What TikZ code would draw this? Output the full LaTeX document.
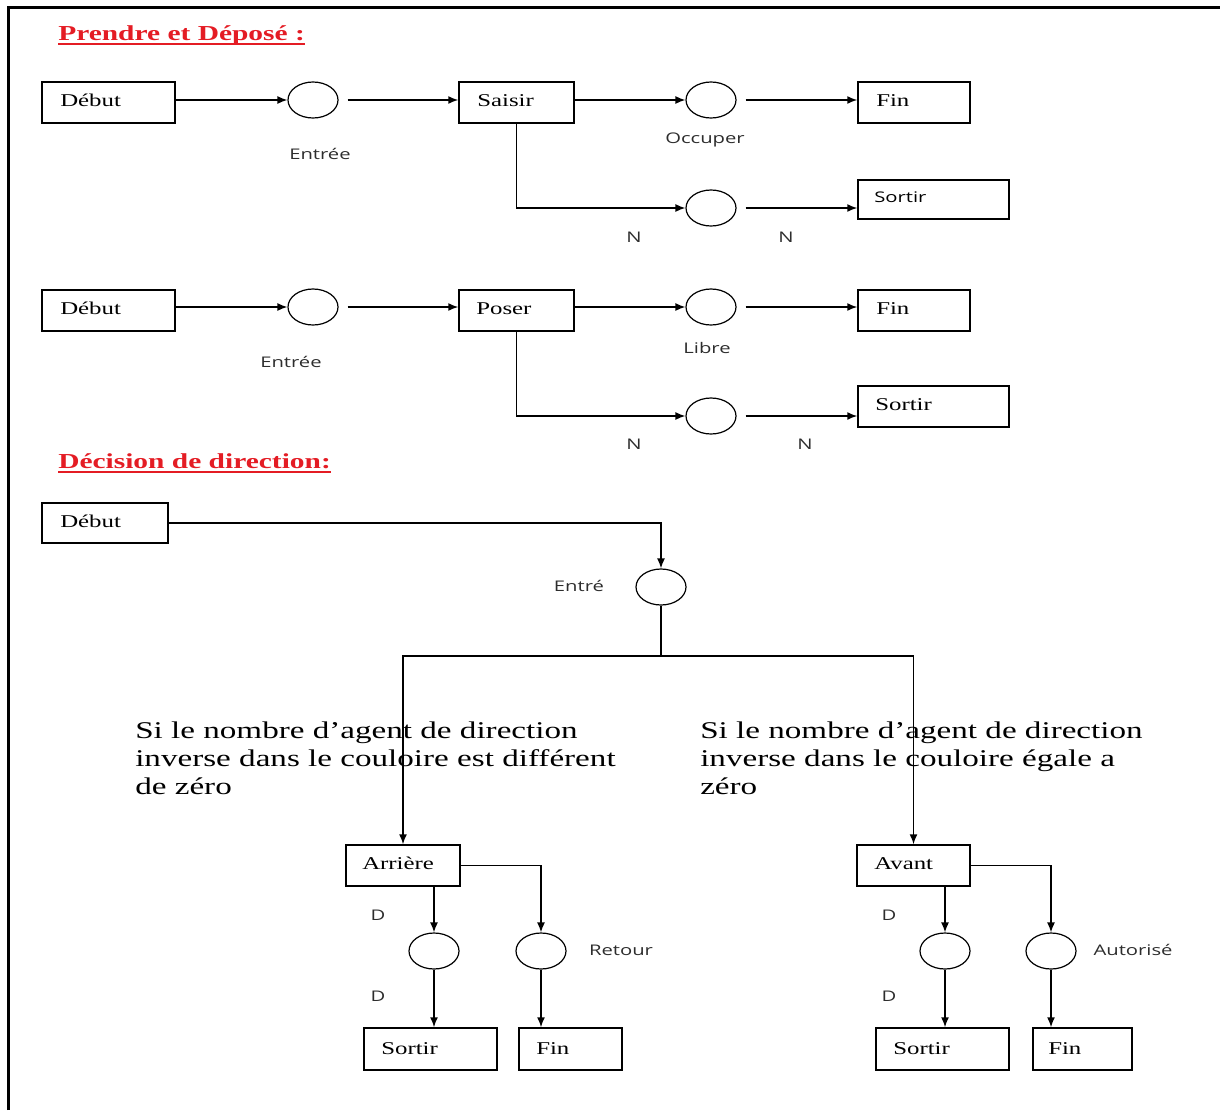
\documentclass[tikz,border=0pt]{standalone}
\usepackage{fontspec}
\setmainfont{Liberation Serif}
\newfontfamily\sansfont{Open Sans}
\usetikzlibrary{arrows.meta,shapes.geometric,fit,calc}

\definecolor{rouge}{RGB}{228,28,36}
\definecolor{gristxt}{RGB}{45,45,45}
% texts are set wider than their height
\newcommand{\etire}[1]{\scalebox{1.38}[1]{#1}}

\tikzset{
  boite/.style={draw, line width=1.1pt, inner sep=0pt},
  place/.style={draw, ellipse, line width=0.9pt, minimum width=37.5pt, minimum height=27pt, inner sep=0pt},
  trait/.style={line width=1.1pt},
  fleche/.style={trait, -{Latex[length=7.5pt,width=6pt]}},
  depart/.style={shorten <=6.75pt},
  txt/.style={inner sep=0pt, anchor=base west, font=\fontsize{13.5pt}{16pt}\selectfont},
  etiq/.style={inner sep=0pt, text=gristxt, font=\sansfont\fontsize{11pt}{13pt}\selectfont},
  titre/.style={inner sep=0pt, anchor=base west, text=rouge, font=\bfseries\fontsize{16pt}{19pt}\selectfont},
  para/.style={inner sep=0pt, anchor=base west, font=\fontsize{18pt}{21pt}\selectfont},
}

\begin{document}
\begin{tikzpicture}[x=0.75pt,y=0.75pt,yscale=-1,xscale=1]
\useasboundingbox (0,0) rectangle (1220,1110);

%Frame
\draw [line width=2.25pt] (8,1110) -- (8,7) -- (1220,7) ;

%%%%%%%%%% Prendre et Dépose
% Text Node
\node [titre] (titreA) at (58,40) {\etire{Prendre et Déposé :}};
\draw [rouge, line width=1.2pt] ($(titreA.base west)+(0,4)$) -- ($(titreA.base east)+(0,4)$) ;

%Shape: Rectangle
\node [boite, fit={(42,82) (175,123)}] (debutA) {};
\node [boite, fit={(459,82) (574,123)}] (saisir) {};
\node [boite, fit={(858,82) (970,123)}] (finA) {};
\node [boite, fit={(858,180) (1009,219)}] (sortirA) {};
%Shape: Ellipse
\node [place] (pA1) at (313,100) {};
\node [place] (pA2) at (711,100) {};
\node [place] (pA3) at (711,208) {};

\draw [fleche] (debutA.east |- pA1) -- (pA1.west) ;
\draw [fleche, depart] (pA1.east) -- (saisir.west |- pA1) ;
\draw [fleche] (saisir.east |- pA2) -- (pA2.west) ;
\draw [fleche, depart] (pA2.east) -- (finA.west |- pA2) ;
\draw [fleche] (saisir.south) |- (pA3.west) ;
\draw [fleche, depart] (pA3.east) -- (sortirA.west |- pA3) ;

% Text Node
\node [txt] (debutA-t) at (60,106) {\etire{Début}};
\node [txt] (saisir-t) at (477,106) {\etire{Saisir}};
\node [txt] (finA-t) at (876,106) {\etire{Fin}};
\node [etiq, anchor=base west, text=black] (sortirA-t) at (874,202) {\etire{Sortir}};
\node [etiq] (entreeA) at (320,154) {\etire{Entrée}};
\node [etiq] (occuper) at (705,140) {\etire{Occuper}};
\node [etiq] (nA1) at (634,237) {\etire{N}};
\node [etiq] (nA2) at (786,237) {\etire{N}};

%%%%%%%%%% Poser
%Shape: Rectangle
\node [boite, fit={(42,290) (175,331)}] (debutB) {};
\node [boite, fit={(459,290) (574,331)}] (poser) {};
\node [boite, fit={(858,290) (970,331)}] (finB) {};
\node [boite, fit={(858,386) (1009,427)}] (sortirB) {};
%Shape: Ellipse
\node [place] (pB1) at (313,307) {};
\node [place] (pB2) at (711,307) {};
\node [place] (pB3) at (711,416) {};

\draw [fleche] (debutB.east |- pB1) -- (pB1.west) ;
\draw [fleche, depart] (pB1.east) -- (poser.west |- pB1) ;
\draw [fleche] (poser.east |- pB2) -- (pB2.west) ;
\draw [fleche, depart] (pB2.east) -- (finB.west |- pB2) ;
\draw [fleche] (poser.south) |- (pB3.west) ;
\draw [fleche, depart] (pB3.east) -- (sortirB.west |- pB3) ;

% Text Node
\node [txt] (debutB-t) at (60,314) {\etire{Début}};
\node [txt] (poser-t) at (476,314) {\etire{Poser}};
\node [txt] (finB-t) at (876,314) {\etire{Fin}};
\node [txt] (sortirB-t) at (875,410) {\etire{Sortir}};
\node [etiq] (entreeB) at (291,362) {\etire{Entrée}};
\node [etiq] (libre) at (707,348) {\etire{Libre}};
\node [etiq] (nB1) at (634,444) {\etire{N}};
\node [etiq] (nB2) at (805,444) {\etire{N}};

%%%%%%%%%% Decision de direction
% Text Node
\node [titre] (titreB) at (58,468) {\etire{Décision de direction:}};
\draw [rouge, line width=1.2pt] ($(titreB.base west)+(0,4)$) -- ($(titreB.base east)+(0,4)$) ;

%Shape: Rectangle
\node [boite, fit={(42,503) (168,543)}] (debutC) {};
\node [boite, fit={(346,845) (460,886)}] (arriere) {};
\node [boite, fit={(857,845) (970,886)}] (avant) {};
\node [boite, fit={(364,1028) (497,1070)}] (sortirC) {};
\node [boite, fit={(519,1028) (622,1070)}] (finC) {};
\node [boite, fit={(876,1028) (1009,1070)}] (sortirD) {};
\node [boite, fit={(1033,1028) (1132,1070)}] (finD) {};
%Shape: Ellipse
\node [place] (entre) at (661,587) {};
\node [place] (pC1) at (434,951) {};
\node [place] (pC2) at (541,951) {};
\node [place] (pD1) at (945,951) {};
\node [place] (pD2) at (1051,951) {};
\coordinate (noeud) at (661,656);

\draw [fleche] (debutC.east) -| (entre.north) ;
\draw [trait] (entre.south) -- (noeud) ;
\draw [fleche] (noeud) -| (arriere.north) ;
\draw [fleche] (noeud) -| (avant.north) ;

\draw [fleche] (arriere.south -| pC1) -- (pC1.north) ;
\draw [fleche] (arriere.east) -| (pC2.north) ;
\draw [fleche] (pC1.south) -- (sortirC.north -| pC1) ;
\draw [fleche] (pC2.south) -- (finC.north -| pC2) ;
\draw [fleche] (avant.south -| pD1) -- (pD1.north) ;
\draw [fleche] (avant.east) -| (pD2.north) ;
\draw [fleche] (pD1.south) -- (sortirD.north -| pD1) ;
\draw [fleche] (pD2.south) -- (finD.north -| pD2) ;

% Text Node
\node [txt] (debutC-t) at (60,527) {\etire{Début}};
\node [etiq] (entre-t) at (579,586) {\etire{Entré}};
\node [para] (condA) at (135,738) {\etire{\begin{tabular}[t]{@{}l@{}}Si le nombre d’agent de direction\\inverse dans le couloire est différent\\de zéro\end{tabular}}};
\node [para] (condB) at (700,738) {\etire{\begin{tabular}[t]{@{}l@{}}Si le nombre d’agent de direction\\inverse dans le couloire égale a\\zéro\end{tabular}}};
\node [txt] (arriere-t) at (362,869) {\etire{Arrière}};
\node [txt] (avant-t) at (874,869) {\etire{Avant}};
\node [txt] (sortirC-t) at (381,1054) {\etire{Sortir}};
\node [txt] (finC-t) at (536,1054) {\etire{Fin}};
\node [txt] (sortirD-t) at (893,1054) {\etire{Sortir}};
\node [txt] (finD-t) at (1048,1054) {\etire{Fin}};
\node [etiq] (dC1) at (378,915) {\etire{D}};
\node [etiq] (dC2) at (378,996) {\etire{D}};
\node [etiq] (dD1) at (889,915) {\etire{D}};
\node [etiq] (dD2) at (889,996) {\etire{D}};
\node [etiq] (retour) at (621,950) {\etire{Retour}};
\node [etiq] (autorise) at (1133,950) {\etire{Autorisé}};

\end{tikzpicture}
\end{document}
